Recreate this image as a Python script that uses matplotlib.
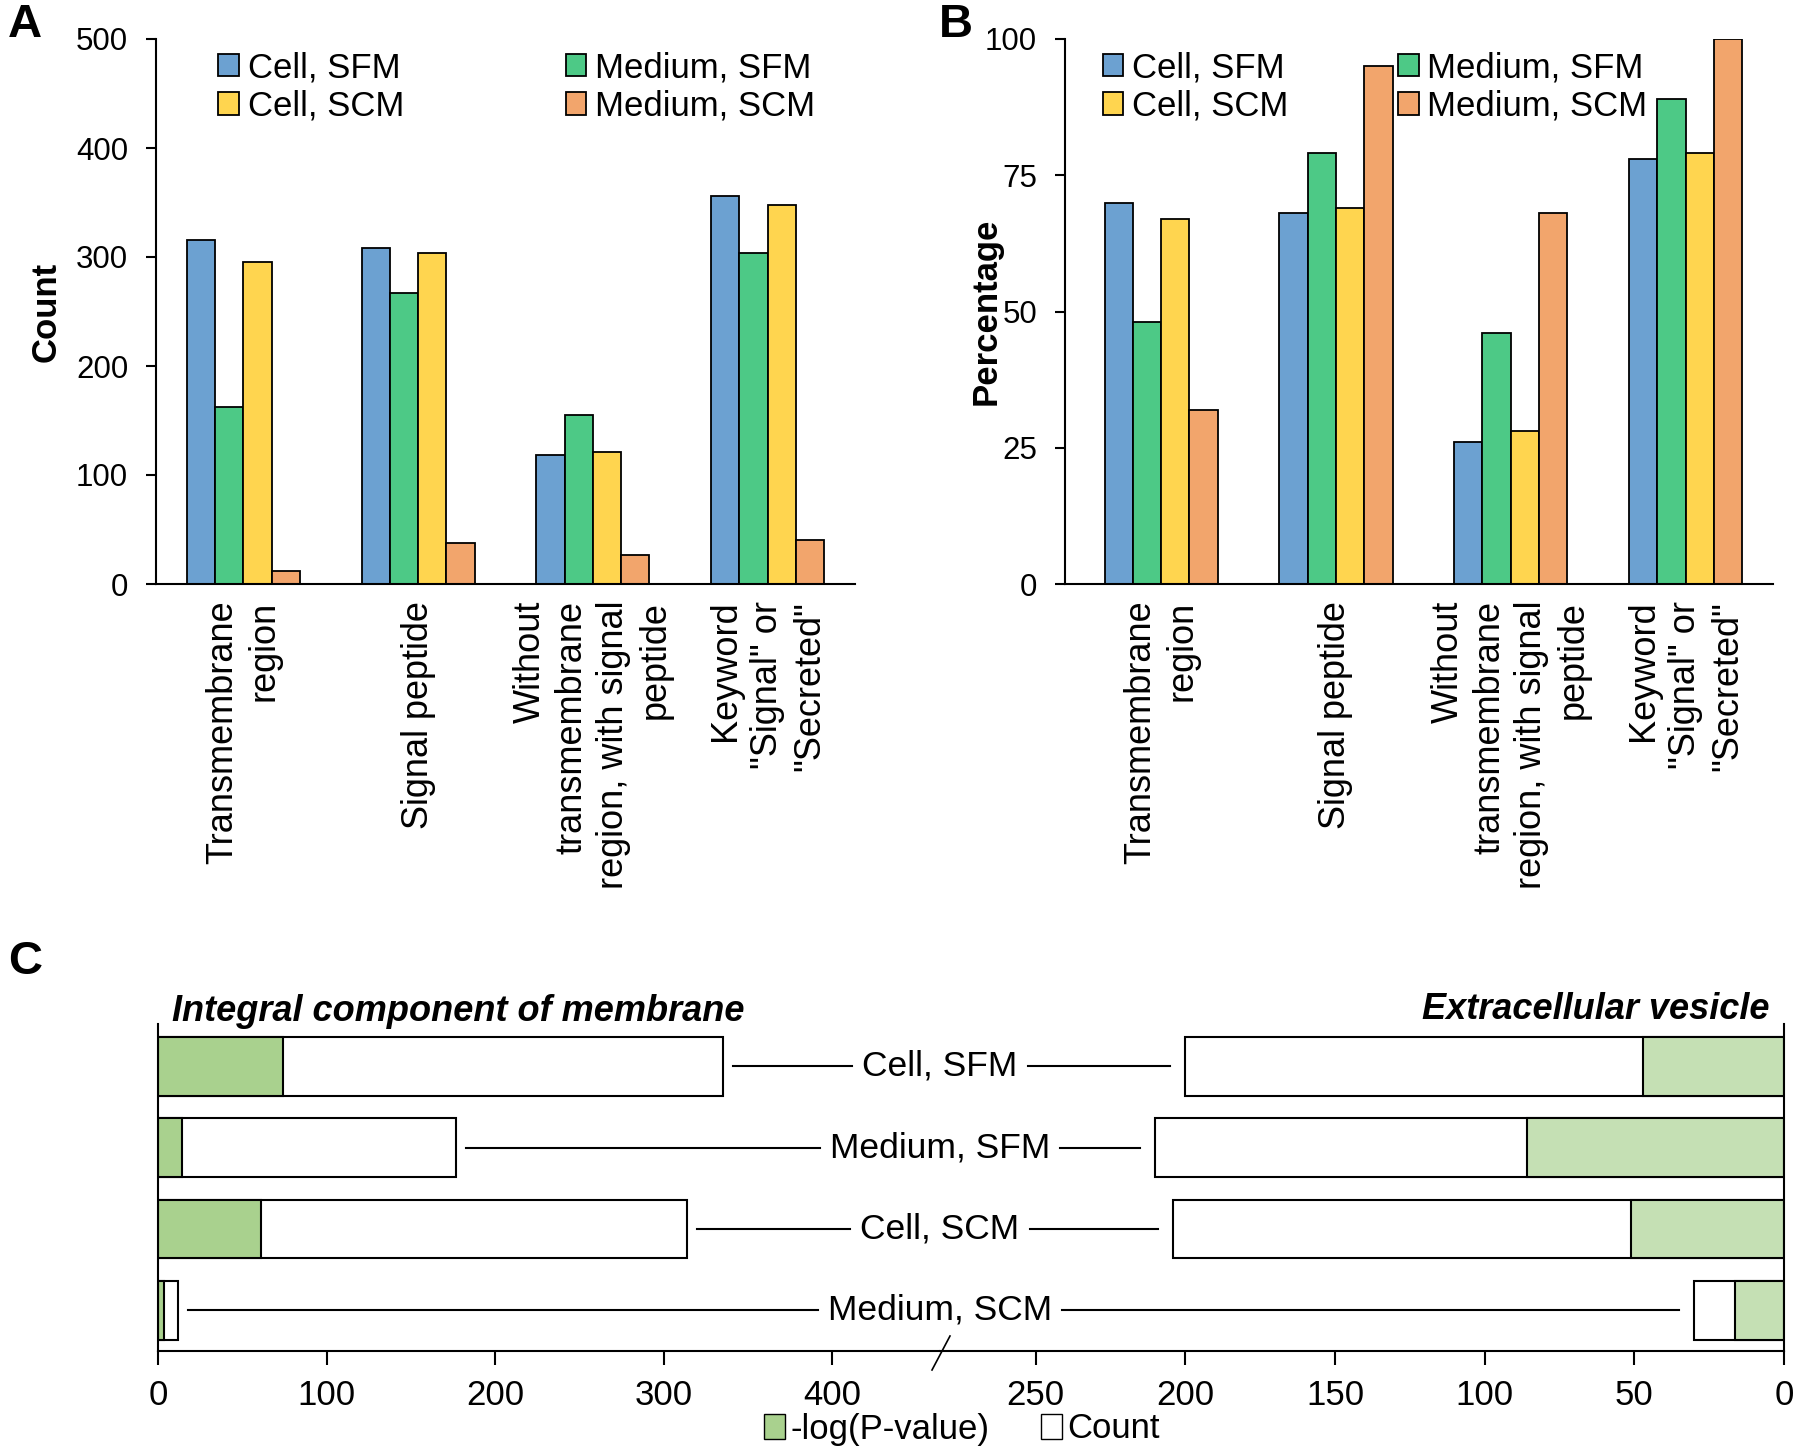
import matplotlib
matplotlib.use("Agg")
import matplotlib.pyplot as plt
from matplotlib.lines import Line2D
from matplotlib.patches import Patch

plt.rcParams['font.family'] = ['Liberation Sans', 'DejaVu Sans']

# panel A / B data
groups = ["Transmembrane\nregion", "Signal peptide",
          "Without\ntransmembrane\nregion, with signal\npeptide",
          'Keyword\n"Signal" or\n"Secreted"']
series_names = ["Cell, SFM", "Medium, SFM", "Cell, SCM", "Medium, SCM"]
series_colors = ["#6CA1D1", "#4DC986", "#FFD54F", "#F2A56C"]

count_cell_sfm = [316, 308, 118, 356]
count_medium_sfm = [162, 267, 155, 304]
count_cell_scm = [295, 304, 121, 348]
count_medium_scm = [12, 38, 27, 40]

pct_cell_sfm = [70, 68, 26, 78]
pct_medium_sfm = [48, 79, 46, 89]
pct_cell_scm = [67, 69, 28, 79]
pct_medium_scm = [32, 95, 68, 100]

# panel C data (rows top to bottom)
rows_c = ["Cell, SFM", "Medium, SFM", "Cell, SCM", "Medium, SCM"]
membrane_count = [335, 177, 314, 12]
membrane_logp = [74, 14, 61, 3.5]
vesicle_count = [200, 210, 204, 30]
vesicle_logp = [47, 86, 51, 16.5]

W, H = 1800, 1456
fig = plt.figure(figsize=(W / 100, H / 100), dpi=100)


def bar_panel(rect, data, ylim, yticks, ylabel, xlim, leg_anchor, colspace, ylab_x):
    ax = fig.add_axes(rect)
    w = 0.162
    for k, (vals, name, col) in enumerate(zip(data, series_names, series_colors)):
        xs = [i + (k - 1.5) * w for i in range(len(groups))]
        ax.bar(xs, vals, width=w, color=col, edgecolor='black', linewidth=1.3, label=name)
    ax.set_xlim(*xlim)
    ax.set_ylim(*ylim)
    ax.set_yticks(yticks)
    ax.set_xticks(range(len(groups)))
    labs = ax.set_xticklabels(groups, rotation=90, ha='center', va='top',
                              multialignment='right', fontsize=26)
    for t in labs:
        t.set_linespacing(1.25)
    ax.tick_params(axis='x', length=0, pad=12)
    ax.tick_params(axis='y', length=7, width=1.5, labelsize=22.5, pad=13)
    for s in ['top', 'right']:
        ax.spines[s].set_visible(False)
    for s in ['left', 'bottom']:
        ax.spines[s].set_linewidth(1.5)
    ax.set_ylabel(ylabel, fontsize=25, fontweight='bold')
    ax.yaxis.set_label_coords(ylab_x, 0.5)
    h, l = ax.get_legend_handles_labels()
    order = [0, 2, 1, 3]
    ax.legend([h[i] for i in order], [l[i] for i in order], ncol=2,
              loc='upper left', bbox_to_anchor=leg_anchor, frameon=False,
              fontsize=25, handlelength=0.6, handleheight=0.6,
              handletextpad=0.25, labelspacing=0.15, columnspacing=colspace,
              borderaxespad=0, borderpad=0)
    return ax


axA = bar_panel([156 / W, 1 - 584 / H, 699 / W, 545 / H],
                [count_cell_sfm, count_medium_sfm, count_cell_scm, count_medium_scm],
                (0, 500), [0, 100, 200, 300, 400, 500], "Count", (-0.5, 3.5),
                (0.089, 0.977), 4.65, -0.134)
axB = bar_panel([1065 / W, 1 - 584 / H, 708 / W, 545 / H],
                [pct_cell_sfm, pct_medium_sfm, pct_cell_scm, pct_medium_scm],
                (0, 100), [0, 25, 50, 75, 100], "Percentage", (-0.55, 3.5),
                (0.053, 0.977), 3.15, -0.088)

# panel C: broken horizontal axis
c_bottom = 1 - 1351 / H
c_height = (1351 - 1024) / H
axL = fig.add_axes([158 / W, c_bottom, (940 - 158) / W, c_height])
axR = fig.add_axes([940 / W, c_bottom, (1784 - 940) / W, c_height])
ypos = [3, 2, 1, 0]
green_l = "#A9D18E"
green_r = "#C5E0B4"
axL.barh(ypos, membrane_count, height=0.72, color='white', edgecolor='black', linewidth=1.5)
axL.barh(ypos, membrane_logp, height=0.72, color=green_l, edgecolor='black', linewidth=1.5)
axR.barh(ypos, vesicle_count, height=0.72, color='white', edgecolor='black', linewidth=1.5)
axR.barh(ypos, vesicle_logp, height=0.72, color=green_r, edgecolor='black', linewidth=1.5)
axL.set_xlim(0, 464)
axR.set_xlim(282, 0)
axL.set_xticks([0, 100, 200, 300, 400])
axR.set_xticks([250, 200, 150, 100, 50, 0])
for ax in (axL, axR):
    ax.set_ylim(-0.5, 3.52)
    ax.set_yticks([])
    ax.spines['top'].set_visible(False)
    ax.spines['bottom'].set_linewidth(1.5)
    ax.tick_params(axis='x', length=10, width=1.5, labelsize=25, pad=10)
axL.spines['right'].set_visible(False)
axL.spines['left'].set_linewidth(1.5)
axR.spines['left'].set_visible(False)
axR.spines['right'].set_linewidth(1.5)

fig.text(172 / W, 1 - 1021 / H, "Integral component of membrane", fontsize=26,
         fontweight='bold', style='italic', ha='left', va='baseline')
fig.text(1770 / W, 1 - 1019 / H, "Extracellular vesicle", fontsize=26,
         fontweight='bold', style='italic', ha='right', va='baseline')

# row labels with connector lines
renderer = fig.canvas.get_renderer()
to_fig = fig.transFigure.inverted()
for name, y, lc, rc in zip(rows_c, ypos, membrane_count, vesicle_count):
    px_l = axL.transData.transform((lc, y))
    px_r = axR.transData.transform((rc, y))
    xf, yf = to_fig.transform((940, px_l[1]))
    t = fig.text(xf, yf, name, fontsize=25.5, ha='center', va='center')
    bb = t.get_window_extent(renderer=renderer)
    for x0, x1 in [(px_l[0] + 10, bb.x0 - 10), (bb.x1 + 10, px_r[0] - 15)]:
        p0 = to_fig.transform((x0, px_l[1]))
        p1 = to_fig.transform((x1, px_l[1]))
        fig.add_artist(Line2D([p0[0], p1[0]], [p0[1], p1[1]], color='black',
                              linewidth=1.5, transform=fig.transFigure))

# break mark
fig.add_artist(Line2D([950 / W, 932 / W], [1 - 1336 / H, 1 - 1370 / H], color='black',
                      linewidth=1.2, transform=fig.transFigure))

fig.legend(handles=[Patch(facecolor=green_l, edgecolor='black'),
                    Patch(facecolor='white', edgecolor='black')],
           labels=["-log(P-value)", "Count"], loc='center',
           bbox_to_anchor=(962 / W, 1 - 1429 / H), ncol=2, frameon=False,
           fontsize=25, handlelength=0.6, handleheight=0.7, handletextpad=0.15,
           columnspacing=1.5)

for lab, x, y in [("A", 25, 25), ("B", 956, 25), ("C", 25, 962)]:
    fig.text(x / W, 1 - y / H, lab, fontsize=34, fontweight='bold', ha='center', va='center')

fig.savefig("out.png", dpi=100)
